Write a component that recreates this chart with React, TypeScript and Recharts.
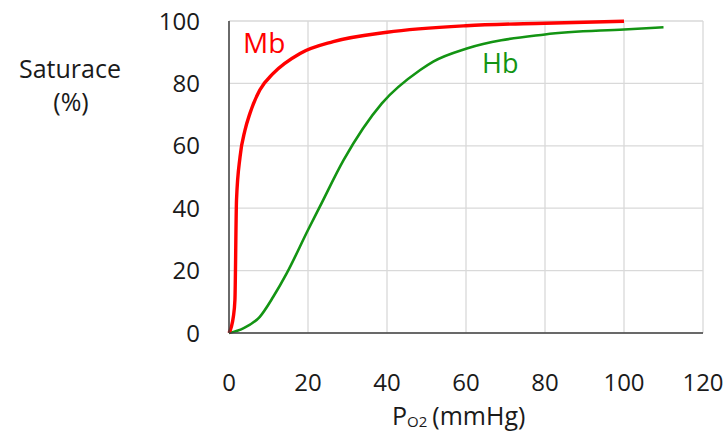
import React from "react";
import { LineChart, Line, XAxis, YAxis, CartesianGrid, Customized } from "recharts";

const mbPo2 = [0, 1.1, 1.5, 1.9, 2.8, 4.05, 5.3, 7.8, 11.2, 18, 26.4, 40, 60, 80, 100];
const mbSat = [0, 5.2, 10.6, 42.6, 56.5, 65, 70.4, 77.9, 83.2, 89.6, 93.4, 96.4, 98.5, 99.3, 99.9];
const hbPo2 = [0, 3.6, 7.8, 11.2, 14.6, 20, 23, 29, 38.7, 48.4, 51.7, 60.2, 80, 100, 110];
const hbSat = [0, 1.5, 5.2, 11.6, 19.1, 33, 40.5, 55.4, 73.6, 84.3, 87, 91.2, 95.7, 97.3, 98];
const xTicks = [0, 20, 40, 60, 80, 100, 120];
const yTicks = [0, 20, 40, 60, 80, 100];

const mbData = mbPo2.map((x, i) => ({ x, y: mbSat[i] }));
const hbData = hbPo2.map((x, i) => ({ x, y: hbSat[i] }));

const FONT = "'Open Sans', sans-serif";
const RED = "#ff0000";
const GREEN = "#139413";

const Overlay = () => (
  <g fontFamily={FONT}>
    <text x={243} y={53} fontSize={28} fill={RED}>Mb</text>
    <text x={482} y={73} fontSize={27} fill={GREEN}>Hb</text>
    <text x={70} y={78} fontSize={25} fill="#1a1a1a" textAnchor="middle">Saturace</text>
    <text x={71} y={111} fontSize={25} fill="#1a1a1a" textAnchor="middle">(%)</text>
    <text x={392} y={425} fontSize={25} fill="#1a1a1a">
      P<tspan fontSize={15} dy={2}>O2</tspan><tspan dy={-2} dx={5}>(mmHg)</tspan>
    </text>
  </g>
);

export default function App() {
  return (
    <div style={{ position: "absolute", left: 0, top: 0, background: "#fff" }}>
      <LineChart width={727} height={433} margin={{ top: 21, right: 24, bottom: 0, left: 0 }}>
        <CartesianGrid stroke="#d9d9d9" strokeWidth={1.3} horizontal vertical />
        <XAxis
          type="number"
          dataKey="x"
          domain={[0, 120]}
          ticks={xTicks}
          interval={0}
          height={100}
          tickSize={0}
          tickMargin={41}
          axisLine={{ stroke: "#404040", strokeWidth: 1.5 }}
          tick={{ fontSize: 24, fill: "#1a1a1a", fontFamily: FONT }}
        />
        <YAxis
          type="number"
          dataKey="y"
          domain={[0, 100]}
          ticks={yTicks}
          interval={0}
          width={229}
          tickSize={0}
          tickMargin={29}
          axisLine={{ stroke: "#404040", strokeWidth: 1.5 }}
          tick={{ fontSize: 24, fill: "#1a1a1a", fontFamily: FONT }}
        />
        <Line data={hbData} dataKey="y" type="monotone" stroke={GREEN} strokeWidth={2.6} dot={false} isAnimationActive={false} />
        <Line data={mbData} dataKey="y" type="monotone" stroke={RED} strokeWidth={3.4} dot={false} isAnimationActive={false} />
        <Customized component={Overlay} />
      </LineChart>
    </div>
  );
}
